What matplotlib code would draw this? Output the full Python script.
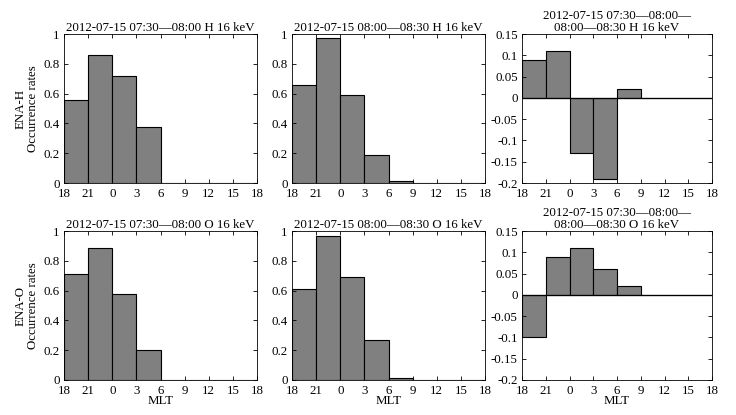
import numpy as np
import matplotlib
matplotlib.use('Agg')
import matplotlib.pyplot as plt

plt.rcParams['font.family'] = ['Liberation Serif', 'DejaVu Serif']
plt.rcParams['font.size'] = 9.3

# MLT bins, 3 h wide, starting at 18
mlt_labels = ['18', '21', '0', '3', '6', '9', '12', '15', '18']

h_0730 = [0.556, 0.86, 0.72, 0.375, 0, 0, 0, 0]
h_0800 = [0.656, 0.975, 0.589, 0.19, 0.016, 0, 0, 0]
h_diff = [0.09, 0.11, -0.13, -0.19, 0.02, 0, 0, 0]

o_0730 = [0.711, 0.884, 0.577, 0.2, 0, 0, 0, 0]
o_0800 = [0.61, 0.964, 0.689, 0.268, 0.011, 0, 0, 0]
o_diff = [-0.1, 0.09, 0.11, 0.06, 0.02, 0, 0, 0]

titles = [
    ['2012-07-15 07:30\u201408:00 H 16 keV',
     '2012-07-15 08:00\u201408:30 H 16 keV',
     '2012-07-15 07:30\u201408:00\u2014\n08:00\u201408:30 H 16 keV'],
    ['2012-07-15 07:30\u201408:00 O 16 keV',
     '2012-07-15 08:00\u201408:30 O 16 keV',
     '2012-07-15 07:30\u201408:00\u2014\n08:00\u201408:30 O 16 keV'],
]
data = [[h_0730, h_0800, h_diff], [o_0730, o_0800, o_diff]]
row_labels = ['ENA-H\nOccurrence rates', 'ENA-O\nOccurrence rates']

W, H = 736, 415
fig = plt.figure(figsize=(W / 100, H / 100), dpi=100)

lefts = [64, 292, 522]
widths = [193, 193, 190]
tops = [34, 231]
height = 149

edges = np.arange(0, 24, 3)

for r in range(2):
    for c in range(3):
        ax = fig.add_axes([lefts[c] / W, 1 - (tops[r] + height) / H,
                           widths[c] / W, height / H])
        vals = data[r][c]
        ax.bar(edges, vals, width=3, align='edge', color='#808080',
               edgecolor='black', linewidth=0.8)
        ax.set_xlim(0, 24)
        ax.set_xticks(np.arange(0, 25, 3))
        ax.set_xticklabels(mlt_labels)
        if c < 2:
            ax.set_ylim(0, 1)
            ax.set_yticks([0, 0.2, 0.4, 0.6, 0.8, 1])
            ax.set_yticklabels(['0', '0.2', '0.4', '0.6', '0.8', '1'])
        else:
            ax.set_ylim(-0.2, 0.15)
            yt = [-0.2, -0.15, -0.1, -0.05, 0, 0.05, 0.1, 0.15]
            ax.set_yticks(yt)
            ax.set_yticklabels(['-0.2', '-0.15', '-0.1', '-0.05', '0', '0.05', '0.1', '0.15'])
            ax.axhline(0, color='black', linewidth=0.9)
        ax.tick_params(axis='x', pad=3.5)
        ax.tick_params(axis='y', pad=3)
        ax.tick_params(direction='in', top=True, right=True, length=3,
                       width=0.6, labelsize=9.3)
        for s in ax.spines.values():
            s.set_linewidth(0.6)
        ax.set_title(titles[r][c], fontsize=9.3, pad=2, linespacing=1.05)
        if c == 0:
            ax.set_ylabel(row_labels[r], fontsize=9.3, labelpad=3, linespacing=1.05)
        if r == 1:
            ax.set_xlabel('MLT', fontsize=9.3, labelpad=-1)

fig.savefig('out.png', dpi=100)
